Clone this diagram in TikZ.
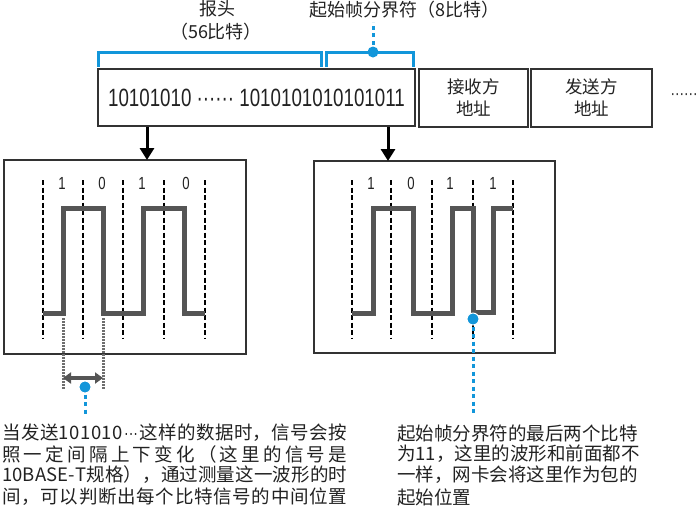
\documentclass[tikz,border=0pt]{standalone}
\usepackage{fontspec}
\setmainfont{Liberation Sans}
\newfontfamily\cjk{Noto Sans CJK SC}
\newfontfamily\narrow[FakeStretch=0.75]{Liberation Sans}
\usetikzlibrary{arrows.meta}
\definecolor{blu}{RGB}{18,150,218}
\definecolor{wave}{RGB}{85,85,85}
\definecolor{edge}{RGB}{50,50,50}
\definecolor{txt}{RGB}{34,34,34}
\definecolor{dotg}{RGB}{110,110,110}
\def\mdots{{\narrow\kern1pt···\kern1pt}}
\def\spreadline#1#2{\hbox to #1{\spreadaux#2\relax}}
\def\spreadaux#1{\ifx#1\relax\unskip\else#1\hskip0pt plus1fil\expandafter\spreadaux\fi}
\tikzset{
  box/.style={draw=edge, line width=1.6pt, inner sep=0pt, fill=white},
  bitdash/.style={black, line width=1.8pt, dash pattern=on 5pt off 2.5pt},
  wav/.style={wave, line width=5pt, line join=miter},
  brk/.style={blu, line width=3pt},
  bdash/.style={blu, line width=3pt, dash pattern=on 4pt off 3.5pt},
  gdot/.style={dotg, line width=3pt, dash pattern=on 1.5pt off 1.5pt},
  downarr/.style={-{Triangle[width=14pt,length=12pt]}, line width=3pt, black},
  dblarr/.style={{Triangle[width=11pt,length=8pt]}-{Triangle[width=11pt,length=8pt]}, line width=3.5pt, wave},
  bitlab/.style={font=\narrow\fontsize{17.5}{17.5}\selectfont, text=txt, inner sep=0pt},
  ttl/.style={font=\cjk\fontsize{18}{18}\selectfont, text=txt, inner sep=0pt},
  note/.style={font=\cjk\fontsize{18.5}{21}\selectfont, text=txt, inner sep=0pt, anchor=west},
  bluedot/.style={fill=blu, draw=white, line width=1pt},
}
\begin{document}
\begin{tikzpicture}[x=1pt,y=-1pt]
\useasboundingbox (0,0) rectangle (700,507);
% top frame fields
\node[box, minimum width=317pt, minimum height=57pt, font=\narrow\fontsize{25}{25}\selectfont, text=txt] (pre) at (256.5,97.5) {10101010 ······ 1010101010101011};
\node[box, minimum width=109pt, minimum height=58pt, align=center, font=\cjk\fontsize{17.5}{22}\selectfont, text=txt] (dst) at (473.5,98) {接收方\\地址};
\node[box, minimum width=121pt, minimum height=58pt, align=center, font=\cjk\fontsize{17.5}{22}\selectfont, text=txt] (src) at (591.5,98) {发送方\\地址};
\node[font=\narrow\fontsize{18}{18}\selectfont, text=txt, inner sep=0pt] (more) at (684,97) {······};
% titles
\node[ttl] (hdr) at (217,9) {报头};
\node[ttl] (hdrbits) at (216,32) {（56比特）};
\node[ttl] (sfd) at (404,10) {起始帧分界符（8比特）};
% brackets
\draw[brk] (98,67) -- (98,52) -- (321,52) -- (321,67);
\draw[brk] (326,67) -- (326,52) -- (413,52) -- (413,67);
\coordinate (sfddot) at (373,52);
\coordinate (sfdtop) at (373,22);
\draw[bdash] (sfddot) -- (sfdtop);
\fill[blu] (sfddot) circle (5.5pt);
% panels
\node[box, minimum width=242pt, minimum height=194pt] (lw) at (125,257) {};
\node[box, minimum width=241pt, minimum height=192pt] (rw) at (434.5,257) {};
\coordinate (a1) at (147,160);
\coordinate (a2) at (388,161);
\draw[downarr] (pre.south -| a1) -- (a1);
\draw[downarr] (pre.south -| a2) -- (a2);
% left waveform
\foreach \x in {43,83,123,164,205} \draw[bitdash] (\x,180) -- (\x,339);
\foreach \x/\b [count=\i] in {62/1,102/0,142/1,186/0} \node[bitlab, fill=white, inner xsep=1pt] (lb\i) at (\x,183) {\b};
\draw[wav] (43,313) -- (63,313) -- (63,208) -- (103,208) -- (103,313) -- (143,313) -- (143,208) -- (184,208) -- (184,313) -- (205,313);
% right waveform
\foreach \x in {352,391,432,473,513} \draw[bitdash] (\x,180) -- (\x,338);
\foreach \x/\b [count=\i] in {371/1,411/0,450/1,493/1} \node[bitlab, fill=white, inner xsep=1pt] (rb\i) at (\x,183) {\b};
\draw[wav] (352,313) -- (373,313) -- (373,208) -- (413,208) -- (413,313) -- (452,313) -- (452,208) -- (473,208) -- (473,312) -- (493,312) -- (493,208) -- (513,208);
% left measurement
\coordinate (m1) at (63,318);
\coordinate (m2) at (103,318);
\draw[gdot] (m1) -- ++(0,72);
\draw[gdot] (m2) -- ++(0,72);
\coordinate (d1) at (63,378);
\coordinate (d2) at (103,378);
\draw[dblarr] (d1) -- (d2);
\coordinate (ldot) at (85,387);
\coordinate (lend) at (85,416);
\draw[bdash] (ldot) -- (lend);
\filldraw[bluedot] (ldot) circle (6pt);
% right marker
\coordinate (rdot) at (473,319);
\coordinate (rend) at (473,416);
\draw[bdash] (rdot) -- (rend);
\filldraw[bluedot] (rdot) circle (6pt);
% notes
\node[note] (l1) at (2,433) {\spreadline{345pt}{当发送101010\mdots 这样的数据时，信号会按}};
\node[note] (l2) at (2,454) {\spreadline{345pt}{照一定间隔上下变化（这里的信号是}};
\node[note] (l3) at (2,475) {\spreadline{345pt}{10BASE-T规格），通过测量这一波形的时}};
\node[note] (l4) at (2,497) {\spreadline{345pt}{间，可以判断出每个比特信号的中间位置}};
\node[note] (r1) at (397,433) {起始帧分界符的最后两个比特};
\node[note] (r2) at (397,454) {为11，这里的波形和前面都不};
\node[note] (r3) at (397,475) {一样，网卡会将这里作为包的};
\node[note] (r4) at (397,497) {起始位置};
\end{tikzpicture}
\end{document}
